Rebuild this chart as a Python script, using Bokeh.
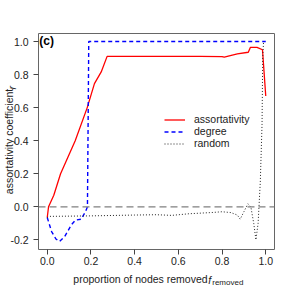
from bokeh.plotting import figure
from bokeh.models import Range1d, FixedTicker, PrintfTickFormatter, Label, Legend, LegendItem, Span
from bokeh.embed import file_html
from bokeh.resources import INLINE
import math

# --- data ---
assort_f = [0.0, 0.006, 0.03, 0.061, 0.128, 0.183, 0.216, 0.247, 0.274, 0.5, 0.7, 0.8, 0.81, 0.87, 0.92, 0.93, 0.96, 0.985, 1.0]
assort_r = [-0.065, 0.0, 0.07, 0.2, 0.4, 0.6, 0.745, 0.816, 0.91, 0.91, 0.91, 0.908, 0.905, 0.925, 0.935, 0.965, 0.965, 0.95, 0.67]

degree_f = [0.0, 0.02, 0.04, 0.056, 0.08, 0.11, 0.13, 0.155, 0.175, 0.184, 0.187, 0.19, 1.0]
degree_r = [-0.065, -0.15, -0.195, -0.21, -0.18, -0.11, -0.08, -0.075, -0.03, 0.0, 0.5, 1.0, 1.0]

random_f = [0.0, 0.01, 0.2, 0.4, 0.5, 0.57, 0.65, 0.75, 0.8, 0.84, 0.87, 0.883, 0.9, 0.918, 0.932, 0.945, 0.955, 0.965, 0.975, 0.983, 0.986, 0.99]
random_r = [-0.065, -0.058, -0.055, -0.05, -0.048, -0.052, -0.042, -0.035, -0.03, -0.035, -0.05, -0.075, -0.03, 0.018, -0.002, -0.1, -0.2, -0.1, 0.15, 0.5, 0.9, 1.0]

x_ticks = [0.0, 0.2, 0.4, 0.6, 0.8, 1.0]
y_ticks = [-0.2, 0.0, 0.2, 0.4, 0.6, 0.8, 1.0]
series_names = ["assortativity", "degree", "random"]

FONT = "Liberation Sans"
FS = "10.5px"

p = figure(width=291, height=291, output_backend="svg", toolbar_location=None,
           x_range=Range1d(-0.04, 1.04), y_range=Range1d(-0.2584, 1.0484),
           min_border_left=37, min_border_right=17, min_border_top=33, min_border_bottom=42)
p.grid.visible = False
p.outline_line_color = "#666666"
p.outline_line_width = 1
p.background_fill_color = "white"
p.border_fill_color = "white"

for ax in (p.xaxis[0], p.yaxis[0]):
    ax.axis_line_color = None
    ax.major_tick_line_color = "#444444"
    ax.major_tick_out = 5
    ax.major_tick_in = 0
    ax.minor_tick_line_color = None
    ax.major_label_text_font = FONT
    ax.major_label_text_font_size = FS
    ax.major_label_text_color = "#222222"
    ax.axis_label_text_font = FONT
    ax.axis_label_text_font_size = FS
    ax.axis_label_text_font_style = "normal"
    ax.axis_label_text_color = "#222222"
    ax.formatter = PrintfTickFormatter(format="%.1f")
p.xaxis.ticker = FixedTicker(ticks=x_ticks)
p.yaxis.ticker = FixedTicker(ticks=y_ticks)
p.xaxis.major_label_standoff = 2
p.yaxis.major_label_standoff = 5

# axis titles: the plain parts are real axis labels, the italic / subscript parts are labels
p.xaxis.axis_label = "proportion of nodes removed" + "\u00a0" * 11
p.xaxis.axis_label_standoff = 5
p.yaxis.axis_label = "assortativity coefficient"
p.yaxis.axis_label_standoff = -8

zero = Span(location=0, dimension="width", line_color="#808080", line_dash="7 4", line_width=1.2)
p.add_layout(zero)

r1 = p.line(assort_f, assort_r, line_color="#ff0000", line_width=1.3)
r2 = p.line(degree_f, degree_r, line_color="#0000ff", line_width=1.4, line_dash="4 3")
r3 = p.line(random_f, random_r, line_color="#222222", line_width=1.0, line_dash="1 2")

legend = Legend(items=[LegendItem(label=series_names[0], renderers=[r1]),
                       LegendItem(label=series_names[1], renderers=[r2]),
                       LegendItem(label=series_names[2], renderers=[r3])],
                location=(126, 100), padding=0, margin=0, spacing=0,
                glyph_height=11, glyph_width=21, label_height=11, label_standoff=9,
                border_line_color=None, background_fill_alpha=0,
                label_text_font=FONT, label_text_font_size=FS, label_text_color="#222222")
p.add_layout(legend)

# panel tag
p.add_layout(Label(x=-0.0365, y=1.002, text="(c)", text_font=FONT, text_font_size="12px",
                   text_font_style="bold", text_baseline="middle", text_align="left", text_color="black"))


def dlabel(side, x, y, text, **kw):
    # labels in a side panel are not clipped to the frame; positions are in data units
    p.add_layout(Label(x=x, y=y, text=text, text_font=FONT, text_baseline="middle",
                       text_color="#222222", **kw), side)


dlabel("above", 0.737, -0.4406, "f", text_font_size=FS, text_align="left", text_font_style="italic")
dlabel("above", 0.755, -0.4588, "removed", text_font_size="8px", text_align="left")
dlabel("right", -0.163, 0.71, "r", text_font_size=FS, text_align="left", angle=math.pi / 2,
       text_font_style="italic")

open("out.html", "w").write(file_html(p, INLINE))
